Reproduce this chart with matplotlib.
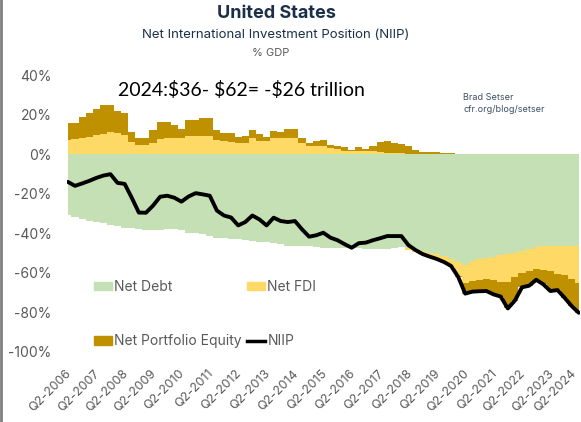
import matplotlib
matplotlib.use("Agg")
import matplotlib.pyplot as plt
import matplotlib.transforms as mtransforms
import numpy as np
from matplotlib.lines import Line2D

# quarterly data, Q2-2006 .. Q2-2024, % of GDP
net_debt = [-30.9, -32, -32.9, -33.8, -34.3, -35, -35.9, -36.5, -37.1, -37.1,
            -38, -38.3, -38.3, -38.3, -38, -38, -38.5, -40, -40, -40.5,
            -41.5, -42.2, -42.5, -43, -43, -43.5, -44, -44.4, -44.4, -44.8,
            -45.5, -46.4, -46.4, -46.4, -46.5, -47, -47.2, -47.2, -47.2, -47.2,
            -47.5, -47.5, -48, -48, -48, -48, -47.5, -47, -47.5, -48,
            -49, -50, -50.5, -51.5, -53, -54.5, -56, -54, -53, -52.5,
            -52, -51, -50.5, -50, -49, -48, -47, -46.5, -46.5, -46.4,
            -46.4, -46.4, -46.4]
net_fdi = [7.2, 7.5, 8.2, 8.8, 9.5, 10.2, 11, 10.5, 9.5, 6,
           4.6, 4.6, 5.9, 7.5, 8, 8, 8, 9, 9.3, 9.3,
           9.3, 7, 6.7, 6, 5.8, 5.6, 8, 6.7, 6.7, 8,
           8, 8.4, 8.4, 5.9, 4.2, 4.2, 4, 2.9, 2.5, 1.7,
           1.7, 1.7, 1.7, 1.5, 1.2, 0.8, 0.8, 0.5, -1, -1.5,
           -2, -2.5, -3, -3.5, -4, -7, -9, -10, -10.5, -10.5,
           -11.6, -13.6, -14.1, -12, -11, -11, -11, -12, -12.5, -14.1,
           -14.9, -16.9, -18.6]
net_equity = [8.8, 8.5, 10.4, 12.2, 13.3, 14.6, 13.8, 11.5, 11.5, 5.3,
              3.4, 3.4, 6.4, 8.9, 8.4, 6.7, 4.7, 8.4, 8.1, 8.9,
              8.9, 5.1, 3.9, 4.6, 2.8, 3.4, 4, 3.3, 1.9, 3.5,
              3.2, 4.3, 4.3, 2.5, 1.3, 2.6, 3, 1.9, 1.5, 1.9,
              0.6, 1.7, 1.1, 2.7, 4.8, 5.7, 5, 4.5, 3.9, 2.2,
              1.2, 1.2, 1.2, 0.5, 0.5, -0.5, -5.5, -5.5, -5.8, -6.2,
              -7.3, -7.4, -13.4, -12, -7.3, -7.5, -5.5, -7.3, -10.2, -8.2,
              -11.3, -13.5, -15.2]
niip = [-14, -16, -14.8, -13.5, -12, -10.8, -10.1, -14.5, -15, -22,
        -29.5, -29.6, -26, -21.5, -21, -22, -24, -21.4, -19.7, -20.3,
        -21, -28.5, -31, -32, -36, -34.3, -31, -33, -36, -32.1,
        -33.8, -34.3, -33.8, -38, -41.7, -41, -39.7, -42.2, -43.5, -45.5,
        -47.3, -45, -44.7, -43.5, -42.5, -41.4, -41.4, -41.4, -46, -48.5,
        -50.5, -51.8, -53, -54.5, -56.5, -62, -70.5, -69.5, -69.3, -69.2,
        -70.9, -72, -78, -74, -67.3, -66.5, -63.5, -65.8, -69.2, -68.7,
        -72.6, -76.8, -80.2]
years = list(range(2006, 2025))
tick_labels = [f"Q2-{y}" for y in years]
y_ticks = [40, 20, 0, -20, -40, -60, -80, -100]

GREEN = "#c5e0b4"
YELLOW = "#ffd966"
GOLD = "#bf9000"
GREY = "#595959"
NAVY = "#1c2f48"

fig = plt.figure(figsize=(5.81, 4.22), dpi=100)
ax = fig.add_axes([0.115, 0.166, 0.883, 0.656])

x = np.arange(len(niip))
pos_base = np.zeros(len(x))
neg_base = np.zeros(len(x))
for vals, color in [(net_debt, GREEN), (net_fdi, YELLOW), (net_equity, GOLD)]:
    v = np.array(vals, dtype=float)
    pos = np.clip(v, 0, None)
    neg = np.clip(v, None, 0)
    ax.fill_between(x, pos_base, pos_base + pos, step="mid", color=color, lw=0)
    ax.fill_between(x, neg_base, neg_base + neg, step="mid", color=color, lw=0)
    pos_base += pos
    neg_base += neg

ax.plot(x, niip, color="black", lw=2.8, solid_joinstyle="round", solid_capstyle="round")

ax.set_xlim(-0.15, len(x) - 0.85)
ax.set_ylim(-100, 40)
ax.set_yticks(y_ticks)
ax.set_yticklabels([f"{t}%" for t in y_ticks], family="Inter", fontsize=10, color=GREY)
ax.set_xticks(x[::4])
ax.set_xticklabels(tick_labels, rotation=45, ha="right", rotation_mode="anchor",
                   family="Inter", fontsize=9, color=GREY)
ax.tick_params(axis="y", length=0, pad=11)
ax.tick_params(axis="x", length=0, pad=11)
xlabels = ax.get_xticklabels()
for i, lbl in enumerate(xlabels):
    dx = -9 if i == len(xlabels) - 1 else -3
    shift = mtransforms.ScaledTranslation(dx / 100, 0, fig.dpi_scale_trans)
    lbl.set_transform(lbl.get_transform() + shift)
for s in ax.spines.values():
    s.set_visible(False)

handles = [
    plt.Rectangle((0, 0), 1, 1, color=GREEN),
    plt.Rectangle((0, 0), 1, 1, color=GOLD),
    plt.Rectangle((0, 0), 1, 1, color=YELLOW),
    Line2D([0], [0], color="black", lw=2.5),
]
labels = ["Net Debt", "Net Portfolio Equity", "Net FDI", "NIIP"]
ax.legend(handles, labels, ncol=2, frameon=False, loc="upper left",
          bbox_to_anchor=(94 / 581, 1 - 280 / 422), bbox_transform=fig.transFigure,
          prop={"family": "Inter", "size": 10}, labelcolor=GREY,
          handlelength=1.3, handleheight=0.55, handletextpad=0.15,
          columnspacing=0.4, labelspacing=2.9, borderpad=0, borderaxespad=0)

fig.text(276 / 581, 1 - 14 / 422, "United States", ha="center", va="center",
         family="Inter", fontsize=13, fontweight="bold", color=NAVY)
fig.text(276 / 581, 1 - 35 / 422, "Net International Investment Position (NIIP)",
         ha="center", va="center", family="Inter", fontsize=9.5, color=NAVY)
fig.text(271 / 581, 1 - 53 / 422, "% GDP", ha="center", va="center",
         family="Inter", fontsize=8, color=GREY)
fig.text(118 / 581, 1 - 90 / 422, "2024:$36- $62= -$26 trillion", ha="left", va="center",
         family="Lato", fontsize=14, color="black")
fig.text(463 / 581, 1 - 97 / 422, "Brad Setser", ha="left", va="center",
         family="Inter", fontsize=6.5, color="#3d4f63")
fig.text(463 / 581, 1 - 110 / 422, "cfr.org/blog/setser", ha="left", va="center",
         family="Inter", fontsize=6.5, color="#3d4f63")

fig.add_artist(Line2D([0.002, 0.002], [0, 1], transform=fig.transFigure, color="#7f7f7f", lw=2))

fig.savefig("out.png", dpi=100)
